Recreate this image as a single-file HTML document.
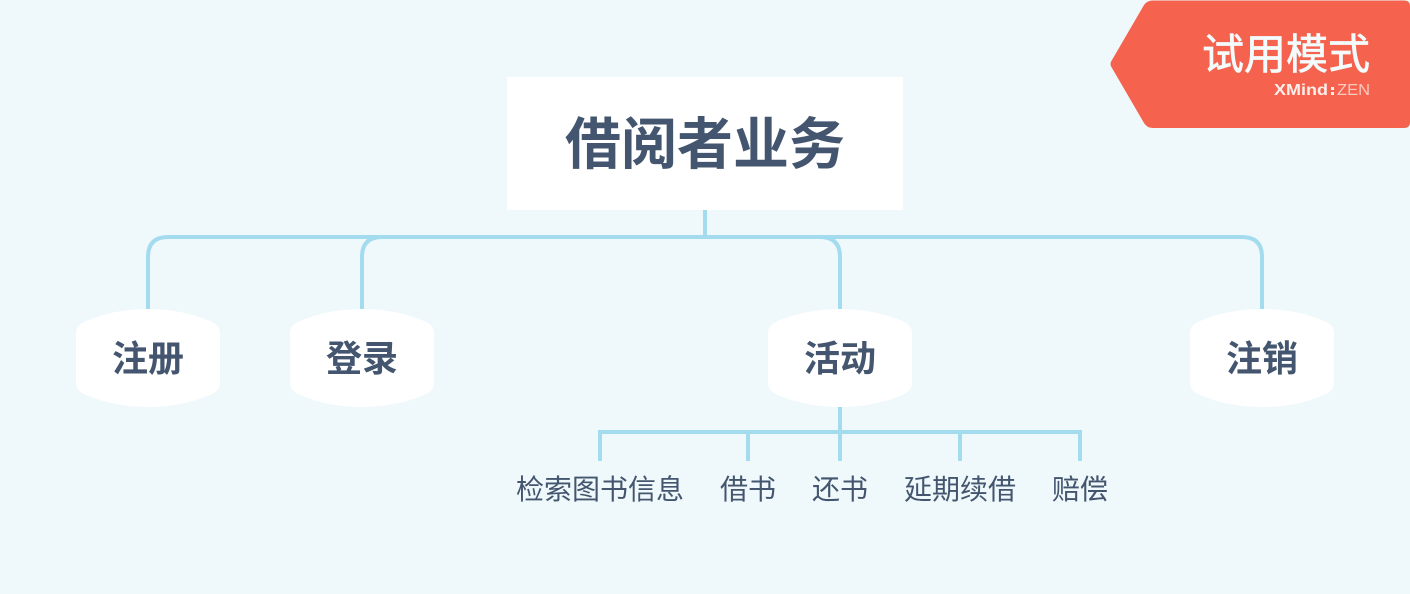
<!DOCTYPE html>
<html lang="zh"><head><meta charset="utf-8"><title>借阅者业务</title>
<style>
html,body{margin:0;padding:0;width:1410px;height:594px;overflow:hidden;background:#eff8fb}
svg{display:block}
text{font-family:"Liberation Sans","Noto Sans CJK SC",sans-serif;fill:#44566f;text-anchor:middle}
.b{font-weight:700}
</style></head><body>
<svg width="1410" height="594" viewBox="0 0 1410 594" xmlns="http://www.w3.org/2000/svg">
<defs>
<path id="n" d="M0 24 Q0 16 10 12 Q38 0 72 0 Q106 0 134 12 Q144 16 144 24 V74 Q144 82 134 86 Q106 98 72 98 Q38 98 10 86 Q0 82 0 74 Z" fill="#fff"/>
</defs>
<rect width="1410" height="594" fill="#eff8fb"/>
<g fill="none" stroke="#a3dcef" stroke-width="4">
<path d="M705 210V237"/>
<path d="M148 309V257Q148 237 168 237H1242Q1262 237 1262 257V309"/>
<path d="M362 309V257Q362 237 382 237"/>
<path d="M820 237Q840 237 840 257V309"/>
<path d="M840 407V461"/>
<path d="M600 461V432H1080V461"/>
<path d="M748 432V461M960 432V461"/>
</g>
<rect x="507" y="77" width="396" height="133" fill="#fff"/>
<text class="b" x="705" y="164" font-size="56">借阅者业务</text>
<use href="#n" x="76" y="309"/>
<use href="#n" x="290" y="309"/>
<use href="#n" x="768" y="309"/>
<use href="#n" x="1190" y="309"/>
<text class="b" x="148" y="371" font-size="36">注册</text>
<text class="b" x="362" y="371" font-size="36">登录</text>
<text class="b" x="840" y="371" font-size="36">活动</text>
<text class="b" x="1262" y="371" font-size="36">注销</text>
<text x="600" y="499" font-size="28">检索图书信息</text>
<text x="748" y="499" font-size="28">借书</text>
<text x="840" y="499" font-size="28">还书</text>
<text x="960" y="499" font-size="28">延期续借</text>
<text x="1080" y="499" font-size="28">赔偿</text>
<path d="M1144 5Q1147 0.5 1153 0.5H1404Q1410 0.5 1410 6V122Q1410 128 1404 128H1153Q1147 128 1144 123L1112 68Q1109 64 1112 60Z" fill="#f5634f"/>
<text x="1370" y="69" font-size="42" stroke="#f3fbfc" stroke-width="0.7" style="fill:#f3fbfc;text-anchor:end">试用模式</text>
<text x="1274" y="95" font-size="16" class="b" textLength="54" lengthAdjust="spacingAndGlyphs" style="fill:#fdeeea;text-anchor:start">XMind</text>
<rect x="1331" y="87" width="3" height="3" fill="#fdeeea"/>
<rect x="1331" y="92" width="3" height="3" fill="#fdeeea"/>
<text x="1337" y="95" font-size="16" textLength="33" lengthAdjust="spacingAndGlyphs" style="fill:#fbc8c0;text-anchor:start">ZEN</text>
</svg>
</body></html>
